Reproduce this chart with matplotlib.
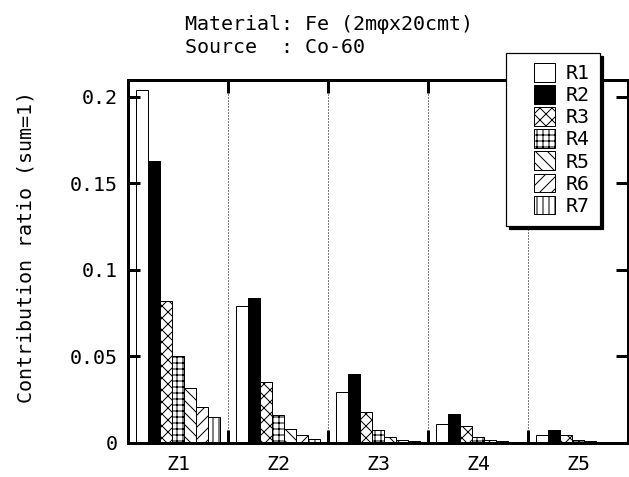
import numpy as np
import matplotlib
matplotlib.use('Agg')
import matplotlib.pyplot as plt
from matplotlib.patches import Rectangle
from matplotlib.container import BarContainer
from matplotlib.legend_handler import HandlerPatch, update_from_first_child

groups = ['Z1', 'Z2', 'Z3', 'Z4', 'Z5']
series = ['R1', 'R2', 'R3', 'R4', 'R5', 'R6', 'R7']
# valores por serie, um por grupo Z1..Z5
R1 = [0.204, 0.0794, 0.0293, 0.0110, 0.0045]
R2 = [0.163, 0.0836, 0.0397, 0.0170, 0.0075]
R3 = [0.0823, 0.0355, 0.0181, 0.0096, 0.0048]
R4 = [0.0500, 0.0160, 0.0075, 0.0037, 0.0019]
R5 = [0.0320, 0.0079, 0.0033, 0.0017, 0.0010]
R6 = [0.0206, 0.0044, 0.0017, 0.0010, 0.0006]
R7 = [0.0148, 0.0021, 0.0012, 0.0005, 0.0003]
valores = [R1, R2, R3, R4, R5, R6, R7]

cores = ['white', 'black', 'white', 'white', 'white', 'white', 'white']
hatches = [None, None, 'xx', '++', '\\\\', '//', '||']

plt.rcParams['font.family'] = ['DejaVu Sans Mono']
plt.rcParams['hatch.linewidth'] = 1.0

fig = plt.figure(figsize=(629/72, 477/72), dpi=72)
ax = fig.add_axes([128/629, 34/477, 500/629, 363/477])

x = np.arange(1, len(groups) + 1)
w = 0.12
for i in range(len(series)):
    pos = x + (i - 3) * w
    ax.bar(pos, valores[i], width=w, color=cores[i], edgecolor='black',
           linewidth=1, hatch=hatches[i], label=series[i])

for b in np.arange(1.5, 5.5, 1):
    ax.axvline(b, color='black', lw=1, linestyle=(0, (1, 2)), zorder=0)

ax.set_xlim(0.5, 5.5)
ax.set_ylim(0, 0.2098)
ax.set_xticks(x)
ax.set_xticklabels(groups)
ax.set_xticks(np.arange(1.5, 5.5, 1), minor=True)
ax.set_yticks([0, 0.05, 0.1, 0.15, 0.2])
ax.set_yticklabels(['0', '0.05', '0.1', '0.15', '0.2'])
ax.tick_params(axis='x', which='major', length=0, pad=12, labelsize=20)
ax.tick_params(axis='x', which='minor', direction='in', length=13, width=3,
               top=True, bottom=True)
ax.tick_params(axis='y', direction='in', length=12, width=3, right=True,
               pad=10, labelsize=20)
for s in ax.spines.values():
    s.set_linewidth(3)

fig.text(26/629, 1 - 247/477, 'Contribution ratio (sum=1)', rotation=90,
         ha='center', va='center', fontsize=20)
fig.text(185/629, 1 - 30/477, 'Material: Fe (2m\u03c6x20cmt)', ha='left',
         va='baseline', fontsize=20)
fig.text(185/629, 1 - 53/477, 'Source  : Co-60', ha='left',
         va='baseline', fontsize=20)


# quadradinho de 21px encostado a direita do espaco do handle
def quadrado(legend, orig_handle, xdescent, ydescent, width, height, fontsize):
    return Rectangle((-xdescent + width - 21, -ydescent), 21, height)


leg = ax.legend(loc='upper right', bbox_to_anchor=(600/629, 1 - 53/477),
                bbox_transform=fig.transFigure, fontsize=20, fancybox=False,
                framealpha=1, edgecolor='black', borderpad=0.5,
                handlelength=1.95, handleheight=1.05, handletextpad=0.55,
                labelspacing=0.1, borderaxespad=0,
                handler_map={BarContainer: HandlerPatch(
                    patch_func=quadrado, update_func=update_from_first_child)},
                shadow={'color': 'black', 'alpha': 1, 'ox': 3, 'oy': -3})
leg.get_frame().set_linewidth(1.2)

plt.savefig('out.png', dpi=72)
